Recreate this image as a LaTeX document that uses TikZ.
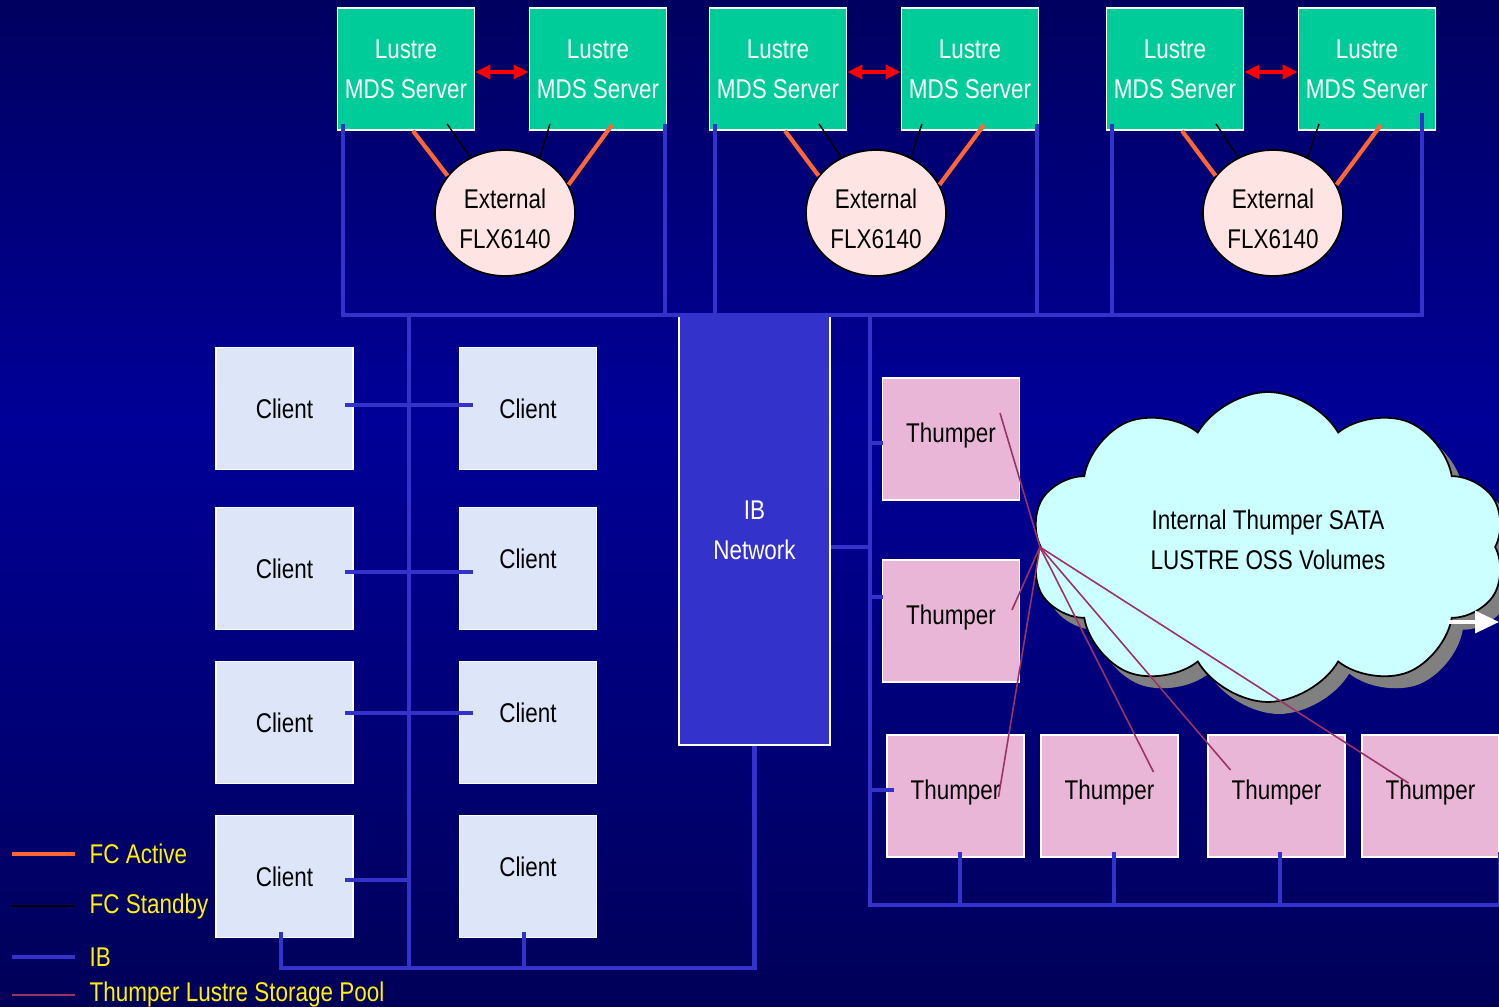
\documentclass[tikz,border=0pt]{standalone}
\usepackage{fontspec}
\setmainfont{Liberation Sans}[FakeStretch=0.83]
\usepackage{tikz}
\usetikzlibrary{shapes.geometric,shapes.symbols,shadows,arrows.meta}

\definecolor{mdsgreen}{RGB}{0,204,153}
\definecolor{extpink}{RGB}{255,228,228}
\definecolor{ibblue}{RGB}{51,51,204}
\definecolor{clientblue}{RGB}{221,230,248}
\definecolor{thumppink}{RGB}{234,182,216}
\definecolor{cloudcyan}{RGB}{204,255,255}
\definecolor{fcorange}{RGB}{255,102,51}
\definecolor{poolred}{RGB}{153,51,102}
\definecolor{bgtop}{RGB}{0,0,96}
\definecolor{bgmid}{RGB}{0,0,152}
\definecolor{bgbot}{RGB}{0,0,88}

\tikzset{
  txt/.style={font=\fontsize{7.7}{11.4}\selectfont, align=center, inner sep=0pt},
  box/.style={txt, draw=white, line width=0.5pt, minimum width=13.7mm, minimum height=12.2mm},
  mds/.style={box, fill=mdsgreen, text=white},
  client/.style={box, fill=clientblue},
  clientup/.style={client, text depth=2mm},
  thumper/.style={box, fill=thumppink, text depth=1.2mm},
  ibbox/.style={box, fill=ibblue, text=white, minimum width=15.1mm, minimum height=42.9mm},
  flx/.style={txt, ellipse, draw=black, line width=0.5pt, fill=extpink, minimum width=14mm, minimum height=12.6mm, text height=7.2mm},
  cloudbox/.style={txt, cloud, cloud puffs=10, cloud puff arc=120, aspect=1.5, draw=black, line width=0.5pt,
    fill=cloudcyan, minimum width=47.5mm, minimum height=31mm, text depth=1.4mm,
    copy shadow={shadow xshift=1.1mm, shadow yshift=-1.2mm, fill=gray, draw=none}},
  ib/.style={draw=ibblue, line width=1.2pt},
  fcact/.style={draw=fcorange, line width=1.2pt},
  fcstb/.style={draw=black, line width=0.4pt},
  pool/.style={draw=poolred, line width=0.45pt},
  hb/.style={draw=red, line width=1pt, arrows={Triangle[length=1.5mm,width=1.4mm]-Triangle[length=1.5mm,width=1.4mm]}},
  warr/.style={draw=white, line width=1pt, arrows={-Triangle[length=2.4mm,width=2.2mm]}},
  legtxt/.style={txt, text=yellow, anchor=west}
}

\begin{document}
\begin{tikzpicture}[x=0.1mm,y=-0.1mm]
  \useasboundingbox (0,0) rectangle (1499,1007);
  \shade[top color=bgtop, bottom color=bgmid] (0,0) rectangle (1499,421);
  \shade[top color=bgmid, bottom color=bgbot] (0,420) rectangle (1499,1007);

  \node[mds] (m1a) at (406,69) {Lustre\\MDS Server};
  \node[mds] (m1b) at (598,69) {Lustre\\MDS Server};
  \node[mds] (m2a) at (778,69) {Lustre\\MDS Server};
  \node[mds] (m2b) at (970,69) {Lustre\\MDS Server};
  \node[mds] (m3a) at (1175,69) {Lustre\\MDS Server};
  \node[mds] (m3b) at (1367,69) {Lustre\\MDS Server};
  \node[flx] (ext1) at (505,213) {External\\FLX6140};
  \node[flx] (ext2) at (876,213) {External\\FLX6140};
  \node[flx] (ext3) at (1273,213) {External\\FLX6140};

  \draw[hb] ([yshift=-0.3mm]m1a.east) -- ([yshift=-0.3mm]m1b.west);
  \draw[hb] ([yshift=-0.3mm]m2a.east) -- ([yshift=-0.3mm]m2b.west);
  \draw[hb] ([yshift=-0.3mm]m3a.east) -- ([yshift=-0.3mm]m3b.west);

  \draw[fcact] ([xshift=0.7mm]m1a.south) -- (ext1.147);
  \draw[fcact] ([xshift=1.4mm,yshift=0.6mm]m1b.south) -- (ext1.24);
  \draw[fcstb] ([xshift=4.1mm,yshift=0.7mm]m1a.south) -- (ext1.122);
  \draw[fcstb] ([xshift=-4.8mm,yshift=0.7mm]m1b.south) -- (ext1.58);
  \draw[fcact] ([xshift=0.7mm]m2a.south) -- (ext2.147);
  \draw[fcact] ([xshift=1.4mm,yshift=0.6mm]m2b.south) -- (ext2.24);
  \draw[fcstb] ([xshift=4.1mm,yshift=0.7mm]m2a.south) -- (ext2.122);
  \draw[fcstb] ([xshift=-4.8mm,yshift=0.7mm]m2b.south) -- (ext2.58);
  \draw[fcact] ([xshift=0.7mm]m3a.south) -- (ext3.147);
  \draw[fcact] ([xshift=1.4mm,yshift=0.6mm]m3b.south) -- (ext3.24);
  \draw[fcstb] ([xshift=4.1mm,yshift=0.7mm]m3a.south) -- (ext3.122);
  \draw[fcstb] ([xshift=-4.8mm,yshift=0.7mm]m3b.south) -- (ext3.58);

  \node[ibbox] (ibnet) at (754.5,530.5) {IB\\Network};

  \node[client] (c1l) at (284.5,408.5) {Client};
  \node[client] (c1r) at (528,408.5) {Client};
  \node[client] (c2l) at (284.5,568.5) {Client};
  \node[clientup] (c2r) at (528,568.5) {Client};
  \node[client] (c3l) at (284.5,722.5) {Client};
  \node[clientup] (c3r) at (528,722.5) {Client};
  \node[client] (c4l) at (284.5,876.5) {Client};
  \node[clientup] (c4r) at (528,876.5) {Client};

  \node[thumper] (t1) at (951,439) {Thumper};
  \node[thumper] (t2) at (951,621) {Thumper};
  \node[thumper] (t3) at (955.5,796) {Thumper};
  \node[thumper] (t4) at (1109.5,796) {Thumper};
  \node[thumper] (t5) at (1276.5,796) {Thumper};
  \node[thumper] (t6) at (1430.5,796) {Thumper};

  % IB fabric
  \draw[ib] ([xshift=0.6mm,yshift=0.7mm]m1a.south west) |- (ibnet.north) -| ([xshift=-1.45mm,yshift=1.8mm]m3b.south east);
  \draw[ib] ([xshift=-0.2mm,yshift=0.7mm]m1b.south east) -- ([xshift=-0.2mm]m1b.south east |- ibnet.north);
  \draw[ib] ([xshift=0.6mm,yshift=0.7mm]m2a.south west) -- ([xshift=0.6mm]m2a.south west |- ibnet.north);
  \draw[ib] ([xshift=-0.25mm,yshift=0.7mm]m2b.south east) -- ([xshift=-0.25mm]m2b.south east |- ibnet.north);
  \draw[ib] ([xshift=0.6mm,yshift=0.7mm]m3a.south west) -- ([xshift=0.6mm]m3a.south west |- ibnet.north);

  \coordinate (cbot) at (409,968);
  \draw[ib] (cbot) -- (cbot |- ibnet.north);
  \draw[ib] ([xshift=-0.35mm,yshift=0.6mm]c4l.south) |- (cbot) -| (ibnet.south);
  \draw[ib] ([xshift=-0.4mm,yshift=0.6mm]c4r.south) -- ([xshift=-0.4mm]c4r.south |- cbot);
  \draw[ib] ([xshift=-0.9mm,yshift=0.35mm]c1l.east) -- ([xshift=1.4mm,yshift=0.35mm]c1r.west);
  \draw[ib] ([xshift=-0.9mm,yshift=-0.35mm]c2l.east) -- ([xshift=1.4mm,yshift=-0.35mm]c2r.west);
  \draw[ib] ([xshift=-0.9mm,yshift=0.95mm]c3l.east) -- ([xshift=1.4mm,yshift=0.95mm]c3r.west);
  \draw[ib] ([xshift=-0.9mm,yshift=-0.35mm]c4l.east) -- ([yshift=-0.35mm]c4l.east -| cbot);

  \coordinate (tbot) at (870,905);
  \draw[ib] (tbot |- ibnet.north) -- (tbot) -- (tbot -| t6.east);
  \draw[ib] ([yshift=-1.65mm]ibnet.east) -- ([yshift=-1.65mm]ibnet.east -| tbot);
  \draw[ib] ([xshift=0.1mm,yshift=-0.4mm]t1.west) -- ([yshift=-0.4mm]t1.west -| tbot);
  \draw[ib] ([xshift=0.1mm,yshift=2.4mm]t2.west) -- ([yshift=2.4mm]t2.west -| tbot);
  \draw[ib] ([xshift=0.8mm,yshift=0.6mm]t3.west) -- ([yshift=0.6mm]t3.west -| tbot);
  \draw[ib] ([xshift=0.45mm,yshift=0.6mm]t3.south) -- ([xshift=0.45mm]t3.south |- tbot);
  \draw[ib] ([xshift=0.45mm,yshift=0.6mm]t4.south) -- ([xshift=0.45mm]t4.south |- tbot);
  \draw[ib] ([xshift=0.35mm,yshift=0.6mm]t5.south) -- ([xshift=0.35mm]t5.south |- tbot);
  \draw[ib] ([yshift=0.6mm]t6.south east) -- (t6.south east |- tbot);

  \node[cloudbox] (oss) at (1268,547) {Internal Thumper SATA\\LUSTRE OSS Volumes};
  \coordinate (wa) at (1448,622);
  \coordinate (wb) at (1499,622);
  \draw[warr] (wa) -- (wb);

  \draw[pool] (oss.west) -- ([shift={(49,-26)}]t1.center);
  \draw[pool] (oss.west) -- ([shift={(61,-11)}]t2.center);
  \draw[pool] (oss.west) -- ([shift={(43,1)}]t3.center);
  \draw[pool] (oss.west) -- ([shift={(44,-24)}]t4.center);
  \draw[pool] (oss.west) -- ([shift={(-46,-26)}]t5.center);
  \draw[pool] (oss.west) -- ([shift={(-22,-13)}]t6.center);

  % legend
  \node[legtxt] (lact) at (89,854) {FC Active};
  \node[legtxt] (lstb) at (89,907) {FC Standby};
  \node[legtxt] (lib) at (89,957) {IB};
  \node[legtxt] (lpool) at (89,995) {Thumper Lustre Storage Pool};
  \coordinate (la) at (12,854);
  \coordinate (ls) at (12,906);
  \coordinate (li) at (12,957);
  \coordinate (lp) at (12,995);
  \draw[fcact] (la) -- ([xshift=-1.4mm]lact.west |- la);
  \draw[fcstb] (ls) -- ([xshift=-1.4mm]lstb.west |- ls);
  \draw[ib] (li) -- ([xshift=-1.4mm]lib.west |- li);
  \draw[pool] (lp) -- ([xshift=-1.4mm]lpool.west |- lp);
\end{tikzpicture}
\end{document}
